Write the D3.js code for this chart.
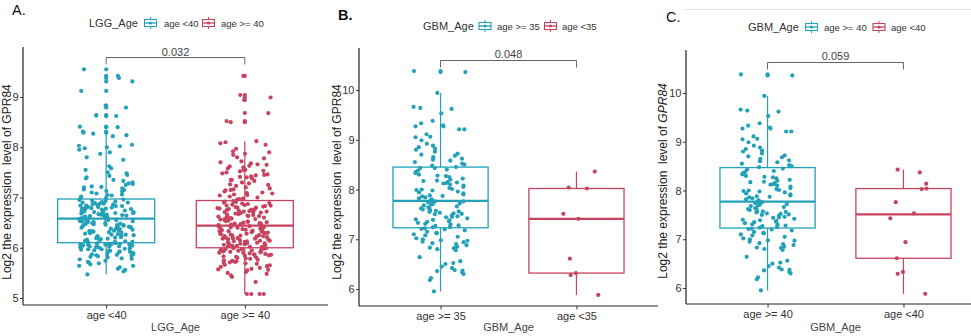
<!DOCTYPE html>
<html>
<head>
<meta charset="utf-8">
<script src="https://cdn.jsdelivr.net/npm/d3@7"></script>
<style>
  body { margin: 0; background: #fff; }
  svg { display: block; }
  text { font-family: "Liberation Sans", Arial, sans-serif; }
</style>
</head>
<body>
<svg id="chart" width="971" height="336"></svg>
<script>
// ---- LGG: GPR84 expression by age group ----
const lggGroups = ["age <40", "age >= 40"];
const lggTicks = [5, 6, 7, 8, 9];
const lggQ1 = [6.10, 6.00];
const lggMedian = [6.58, 6.44];
const lggQ3 = [6.97, 6.94];
const lggYoung = [
  5.47, 5.53, 5.58, 5.61, 5.64, 5.64, 5.67, 5.69, 5.71, 5.74, 5.77, 5.78, 5.81, 5.82, 5.84, 5.85,
  5.87, 5.88, 5.88, 5.90, 5.91, 5.93, 5.94, 5.94, 5.96, 5.97, 5.97, 5.99, 6.00, 6.00, 6.01, 6.02,
  6.02, 6.03, 6.04, 6.04, 6.05, 6.05, 6.06, 6.06, 6.07, 6.07, 6.08, 6.08, 6.09, 6.09, 5.72, 5.83,
  5.92, 5.98, 6.03, 6.06, 5.86, 5.79, 6.01, 5.95, 6.08, 5.56,
  6.11, 6.12, 6.13, 6.14, 6.16, 6.17, 6.18, 6.19, 6.21, 6.22, 6.23, 6.25, 6.26, 6.27, 6.29, 6.30,
  6.31, 6.33, 6.34, 6.35, 6.36, 6.38, 6.39, 6.40, 6.41, 6.43, 6.44, 6.45, 6.46, 6.47, 6.48, 6.49,
  6.50, 6.51, 6.52, 6.53, 6.54, 6.55, 6.56, 6.57, 6.12, 6.15, 6.20, 6.24, 6.28, 6.32, 6.37, 6.42,
  6.45, 6.49, 6.52, 6.55, 6.57, 6.33, 6.26, 6.41, 6.47, 6.53,
  6.59, 6.61, 6.62, 6.64, 6.65, 6.66, 6.68, 6.69, 6.70, 6.71, 6.73, 6.74, 6.75, 6.77, 6.78, 6.79,
  6.80, 6.82, 6.83, 6.84, 6.86, 6.87, 6.88, 6.90, 6.91, 6.93, 6.94, 6.96, 6.60, 6.63, 6.67, 6.69,
  6.72, 6.76, 6.78, 6.81, 6.85, 6.89, 6.92, 6.95, 6.62, 6.66, 6.71, 6.74, 6.79, 6.83, 6.88, 6.61,
  6.70, 6.77, 6.84, 6.90, 6.65, 6.73, 6.81,
  9.55, 9.42, 9.38, 9.31, 9.12, 8.83, 8.79, 8.63, 8.62, 8.64, 8.40, 8.41, 8.31, 8.29, 8.27, 8.24,
  8.22, 8.05, 8.02, 8.00, 8.03, 7.98, 7.95, 7.90, 7.87, 7.80, 7.75, 7.62, 7.58, 7.55, 7.50, 7.48,
  7.45, 7.40, 7.35, 7.33, 7.30, 7.28, 7.25, 7.22, 7.20, 7.18, 7.15, 7.13, 7.10, 7.08, 7.06, 7.04,
  7.02, 7.00, 6.99, 7.12, 7.27, 7.38, 7.05, 7.16, 7.43, 7.21
];
const lggOld = [
  9.42, 9.04, 8.99, 8.94, 8.68, 8.52, 8.50, 8.10, 8.08, 8.12, 8.05, 7.97, 7.92, 7.90, 7.87, 7.85,
  7.80, 7.78, 7.70, 7.68, 7.66, 7.65, 7.63, 7.60, 7.58, 7.55, 7.52, 7.50, 7.48, 7.46, 7.44, 7.42,
  7.40, 7.38, 7.35, 7.33, 7.30, 7.28, 7.26, 7.23, 7.20, 7.18, 7.16, 7.14, 7.12, 7.10, 7.08, 7.06,
  7.04, 7.02, 7.00, 6.98, 6.96, 7.45, 7.55, 7.62, 7.25, 7.35, 7.15, 7.05, 6.97, 7.72, 7.41, 7.53, 7.09,
  6.45, 6.46, 6.47, 6.48, 6.50, 6.51, 6.52, 6.53, 6.55, 6.56, 6.57, 6.58, 6.60, 6.61, 6.62, 6.63,
  6.65, 6.66, 6.67, 6.68, 6.70, 6.71, 6.72, 6.74, 6.75, 6.76, 6.78, 6.79, 6.80, 6.82, 6.83, 6.84,
  6.86, 6.87, 6.88, 6.90, 6.91, 6.93, 6.46, 6.49, 6.54, 6.59, 6.64, 6.69, 6.73, 6.77, 6.81, 6.85,
  6.89, 6.92, 6.48, 6.57, 6.63, 6.70, 6.76, 6.84, 6.52, 6.61, 6.72, 6.80,
  6.01, 6.02, 6.03, 6.04, 6.05, 6.07, 6.08, 6.09, 6.10, 6.12, 6.13, 6.14, 6.15, 6.17, 6.18, 6.19,
  6.20, 6.22, 6.23, 6.24, 6.25, 6.27, 6.28, 6.29, 6.30, 6.32, 6.33, 6.34, 6.35, 6.37, 6.38, 6.39,
  6.40, 6.42, 6.43, 6.02, 6.06, 6.11, 6.16, 6.21, 6.26, 6.31, 6.36, 6.41, 6.04, 6.09, 6.14, 6.19,
  6.24, 6.29, 6.34, 6.39, 6.43, 6.07, 6.13, 6.18, 6.23, 6.28, 6.33, 6.38,
  5.08, 5.08, 5.08, 5.08, 5.32, 5.42, 5.45, 5.48, 5.50, 5.52, 5.55, 5.57, 5.58, 5.60, 5.62, 5.63,
  5.65, 5.66, 5.68, 5.70, 5.71, 5.72, 5.74, 5.75, 5.76, 5.78, 5.79, 5.80, 5.81, 5.82, 5.83, 5.84,
  5.85, 5.86, 5.87, 5.88, 5.89, 5.90, 5.90, 5.91, 5.92, 5.93, 5.93, 5.94, 5.95, 5.95, 5.96, 5.96,
  5.97, 5.97, 5.98, 5.98, 5.99, 5.99, 5.56, 5.64, 5.73, 5.86, 5.92, 5.69
];

// ---- GBM: GPR84 expression, split at 35 and at 40 ----
const gbmTicks = [6, 7, 8, 9, 10];
const gbmOld40 = [
  10.38, 10.36, 9.94, 9.64, 9.66, 9.53, 9.62, 9.38, 9.33, 9.29, 9.27, 9.27, 9.21, 9.21, 9.11, 9.06,
  9.05, 8.99, 8.92, 8.88, 8.85, 8.82, 8.80, 8.76, 8.72, 8.70, 8.68, 8.65, 8.62, 8.60, 8.58, 8.55,
  8.52, 8.50, 8.48,
  8.45, 8.43, 8.40, 8.38, 8.35, 8.33, 8.30, 8.28, 8.25, 8.22, 8.20, 8.18, 8.17, 8.15, 8.12, 8.10,
  8.08, 8.05, 8.03, 8.01, 8.00, 7.98, 7.96, 7.94, 7.92, 7.90, 7.88, 7.86, 7.84, 7.82, 7.80, 7.78,
  8.27, 8.13, 7.99, 7.87,
  7.76, 7.74, 7.72, 7.70, 7.68, 7.66, 7.64, 7.62, 7.60, 7.58, 7.56, 7.55, 7.53, 7.51, 7.50, 7.48,
  7.46, 7.44, 7.42, 7.40, 7.38, 7.36, 7.35, 7.33, 7.31, 7.30, 7.28, 7.27, 7.25, 7.24, 7.57, 7.45,
  7.39, 7.52, 7.63, 7.71,
  7.22, 7.21, 7.20, 7.18, 7.15, 7.13, 7.12, 7.10, 7.08, 7.05, 7.02, 7.00, 6.98, 6.97, 6.95, 6.92,
  6.88, 6.85, 6.83, 6.82, 6.80, 6.78, 6.64, 6.56, 6.52, 6.50, 6.45, 6.42, 6.38, 6.37, 6.36, 6.33,
  6.30, 6.22, 6.18, 5.95, 6.90
];
const gbmYoung40 = [8.43, 8.37, 8.14, 8.04, 8.03, 7.76, 7.53, 7.43, 6.94, 6.61, 6.33, 6.29, 5.88];
// patients aged 35-39 move from the younger group into the older one
const gbmAge35to39 = [8.43, 8.14, 7.76, 6.94];
const gbmOld35 = gbmOld40.concat(gbmAge35to39);
const gbmYoung35 = [8.36, 8.04, 8.02, 7.51, 7.41, 6.61, 6.32, 6.28, 5.88];

const gbm35Groups = ["age >= 35", "age <35"];
const gbm35Q1 = [7.23, 6.32];
const gbm35Median = [7.77, 7.41];
const gbm35Q3 = [8.45, 8.02];

const gbm40Groups = ["age >= 40", "age <40"];
const gbm40Q1 = [7.23, 6.61];
const gbm40Median = [7.77, 7.51];
const gbm40Q3 = [8.47, 8.04];

const pValues = ["0.032", "0.048", "0.059"];

// ---- drawing ----
const TEAL = "#22A1B8";
const RED = "#C8435F";
const colors = [TEAL, RED];
const svg = d3.select("#chart");

const panels = [
  {
    letter: "A.", letterX: 12, letterY: 15, letterWeight: "normal",
    groups: lggGroups, values: [lggYoung, lggOld], q1: lggQ1, med: lggMedian, q3: lggQ3,
    ticks: lggTicks, pLabel: pValues[0], title: "LGG_Age",
    x0: 23, x1: 328, yTop: 47, yBottom: 305, yDomain: [4.861, 9.995],
    bracketY: 57.5, textY: 55.5, italicGene: false,
    yTitleX: 10.5, yTitleY: 182,
    legend: { y: 23, titleX: 89, key1: 150.5, lab1: 164, key2: 208.5, lab2: 221 },
    seed: 0.137
  },
  {
    letter: "B.", letterX: 338, letterY: 20, letterWeight: "bold",
    groups: gbm35Groups, values: [gbmOld35, gbmYoung35], q1: gbm35Q1, med: gbm35Median, q3: gbm35Q3,
    ticks: gbmTicks, pLabel: pValues[1], title: "GBM_Age",
    x0: 359, x1: 658, yTop: 48, yBottom: 306, yDomain: [5.658, 10.844],
    bracketY: 60.5, textY: 57.5, italicGene: false,
    yTitleX: 341, yTitleY: 182,
    legend: { y: 26, titleX: 423, key1: 485, lab1: 497, key2: 550.5, lab2: 562 },
    seed: 0.611
  },
  {
    letter: "C.", letterX: 666, letterY: 22, letterWeight: "normal",
    groups: gbm40Groups, values: [gbmOld40, gbmYoung40], q1: gbm40Q1, med: gbm40Median, q3: gbm40Q3,
    ticks: gbmTicks, pLabel: pValues[2], title: "GBM_Age",
    x0: 686, x1: 985, yTop: 50, yBottom: 304, yDomain: [5.672, 10.882],
    bracketY: 62.5, textY: 59.5, italicGene: true,
    yTitleX: 667, yTitleY: 181,
    legend: { y: 27, titleX: 748, key1: 811.5, lab1: 824, key2: 879, lab2: 891 },
    seed: 0.611
  }
];

// faint rule above panel C
svg.append("line")
  .attr("x1", 683).attr("x2", 971).attr("y1", 9.5).attr("y2", 9.5)
  .attr("stroke", "#e4e4e4").attr("stroke-width", 1);

function boxStats(vals, q1, med, q3) {
  const iqr = q3 - q1;
  const loFence = q1 - 1.5 * iqr, hiFence = q3 + 1.5 * iqr;
  const inside = vals.filter(v => v >= loFence && v <= hiFence);
  return {
    q1, med, q3,
    lo: d3.min(inside), hi: d3.max(inside),
    outliers: vals.filter(v => v < loFence || v > hiFence)
  };
}

function drawKey(g, cx, cy, color) {
  const k = g.append("g").attr("transform", `translate(${cx},${cy})`);
  k.append("line").attr("x1", 0).attr("x2", 0).attr("y1", -6).attr("y2", -3.5)
    .attr("stroke", color).attr("stroke-width", 1);
  k.append("line").attr("x1", 0).attr("x2", 0).attr("y1", 3.5).attr("y2", 6)
    .attr("stroke", color).attr("stroke-width", 1);
  k.append("rect").attr("x", -6).attr("y", -3.5).attr("width", 12).attr("height", 7)
    .attr("fill", "#fff").attr("stroke", color).attr("stroke-width", 1.1);
  k.append("line").attr("x1", -6).attr("x2", 6).attr("y1", 0).attr("y2", 0)
    .attr("stroke", color).attr("stroke-width", 1.3);
  k.append("circle").attr("r", 1.6).attr("fill", color);
}

panels.forEach(p => {
  const g = svg.append("g");

  const x = d3.scalePoint().domain(p.groups).range([p.x0, p.x1]).padding(0.6);
  const y = d3.scaleLinear().domain(p.yDomain).range([p.yBottom, p.yTop]);
  const step = x.step();
  const boxW = step * 0.7;

  // panel letter
  g.append("text").attr("x", p.letterX).attr("y", p.letterY)
    .attr("font-size", 14.5).attr("font-weight", p.letterWeight).attr("fill", "#111")
    .text(p.letter);

  // legend
  const L = p.legend;
  g.append("text").attr("x", L.titleX).attr("y", L.y + 4)
    .attr("font-size", 11).attr("fill", "#333").text(p.title);
  drawKey(g, L.key1, L.y, colors[0]);
  drawKey(g, L.key2, L.y, colors[1]);
  g.append("text").attr("x", L.lab1).attr("y", L.y + 3.5)
    .attr("font-size", 9.5).attr("fill", "#333").text(p.groups[0]);
  g.append("text").attr("x", L.lab2).attr("y", L.y + 3.5)
    .attr("font-size", 9.5).attr("fill", "#333").text(p.groups[1]);

  // y axis
  const yAxis = d3.axisLeft(y).tickValues(p.ticks).tickSize(3).tickPadding(1.5).tickFormat(d3.format("d"));
  const ya = g.append("g").attr("transform", `translate(${p.x0},0)`).call(yAxis);
  ya.select(".domain").attr("d", `M0,${p.yTop}V${p.yBottom}`).attr("stroke", "#222").attr("stroke-width", 1.2);
  ya.selectAll(".tick line").attr("stroke", "#333");
  ya.selectAll(".tick text").attr("font-size", 11).attr("fill", "#333")
    .attr("font-family", "Liberation Sans, Arial, sans-serif");

  // x axis
  const xAxis = d3.axisBottom(x).tickSize(3.5).tickPadding(3);
  const xa = g.append("g").attr("transform", `translate(0,${p.yBottom})`).call(xAxis);
  xa.select(".domain").attr("d", `M${p.x0},0H${p.x1}`).attr("stroke", "#222").attr("stroke-width", 1.2);
  xa.selectAll(".tick line").attr("stroke", "#333");
  xa.selectAll(".tick text").attr("font-size", 11).attr("fill", "#333")
    .attr("font-family", "Liberation Sans, Arial, sans-serif");

  // axis titles
  g.append("text").attr("x", (p.x0 + p.x1) / 2).attr("y", 331)
    .attr("text-anchor", "middle").attr("font-size", 11).attr("fill", "#444").text(p.title);
  const yt = g.append("text")
    .attr("transform", `translate(${p.yTitleX},${p.yTitleY}) rotate(-90)`)
    .attr("text-anchor", "middle").attr("font-size", 12).attr("fill", "#222")
    .attr("xml:space", "preserve");
  yt.append("tspan").text("Log2 the expression  level of ");
  yt.append("tspan").attr("font-style", p.italicGene ? "italic" : "normal").text("GPR84");

  // box plots
  p.groups.forEach((grp, i) => {
    const s = boxStats(p.values[i], p.q1[i], p.med[i], p.q3[i]);
    const cx = x(grp), col = colors[i];
    const bg = g.append("g");
    bg.append("line").attr("x1", cx).attr("x2", cx).attr("y1", y(s.q3)).attr("y2", y(s.hi))
      .attr("stroke", col).attr("stroke-width", 1.2);
    bg.append("line").attr("x1", cx).attr("x2", cx).attr("y1", y(s.q1)).attr("y2", y(s.lo))
      .attr("stroke", col).attr("stroke-width", 1.2);
    bg.append("rect").attr("x", cx - boxW / 2).attr("width", boxW)
      .attr("y", y(s.q3)).attr("height", y(s.q1) - y(s.q3))
      .attr("fill", "#fff").attr("stroke", col).attr("stroke-width", 1.3);
    bg.append("line").attr("x1", cx - boxW / 2).attr("x2", cx + boxW / 2)
      .attr("y1", y(s.med)).attr("y2", y(s.med))
      .attr("stroke", col).attr("stroke-width", 2.2);
    bg.selectAll("circle.out").data(s.outliers).join("circle")
      .attr("cx", cx).attr("cy", d => y(d)).attr("r", 2.1).attr("fill", col);
  });

  // jittered observations
  const rnd = d3.randomUniform.source(d3.randomLcg(p.seed))(-0.2, 0.2);
  p.groups.forEach((grp, i) => {
    const cx = x(grp), col = colors[i];
    g.append("g").selectAll("circle").data(p.values[i]).join("circle")
      .attr("cx", () => cx + rnd() * step)
      .attr("cy", d => y(d)).attr("r", 2.1).attr("fill", col);
  });

  // comparison bracket with p-value
  const xa0 = x(p.groups[0]), xb0 = x(p.groups[1]);
  g.append("path")
    .attr("d", `M${xa0},${p.bracketY + 7}V${p.bracketY}H${xb0}V${p.bracketY + 7}`)
    .attr("fill", "none").attr("stroke", "#555").attr("stroke-width", 0.9);
  g.append("text").attr("x", (xa0 + xb0) / 2).attr("y", p.textY)
    .attr("text-anchor", "middle").attr("font-size", 11).attr("fill", "#444").text(p.pLabel);
});
</script>
</body>
</html>
